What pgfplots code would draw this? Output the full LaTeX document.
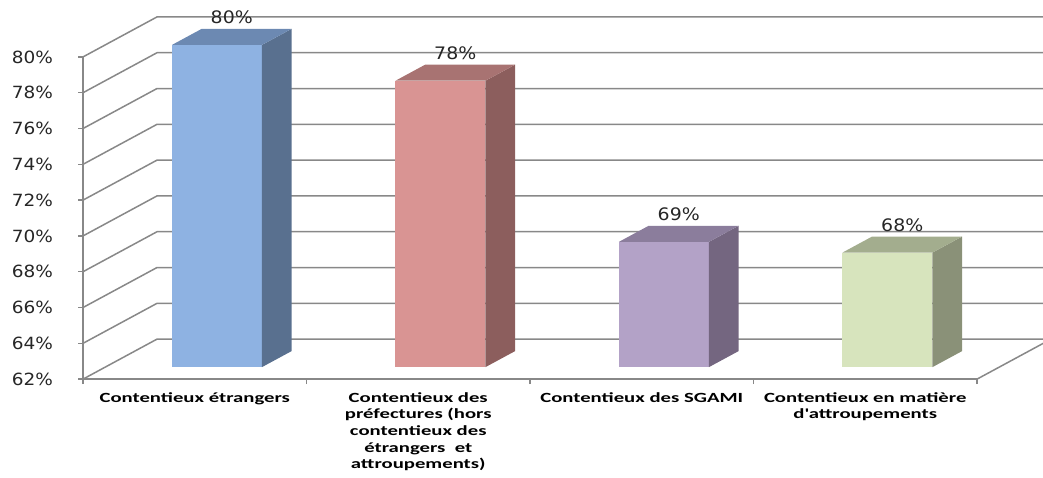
\documentclass[border=0pt]{standalone}
\usepackage{pgfplots}
\pgfplotsset{compat=1.18}
\usepackage{pgfplotstable}
\usepackage{fontspec}
\setmainfont{DejaVu Sans}
\newfontfamily\valfont{DejaVu Sans}[FakeStretch=1.1]
\newfontfamily\catfont{Carlito}[FakeStretch=1.48]

\definecolor{gridgray}{RGB}{136,136,136}
\definecolor{blueF}{RGB}{142,178,226}
\definecolor{blueS}{RGB}{89,112,143}
\definecolor{blueT}{RGB}{108,137,178}
\definecolor{redF}{RGB}{217,148,147}
\definecolor{redS}{RGB}{140,94,93}
\definecolor{redT}{RGB}{168,115,114}
\definecolor{violetF}{RGB}{179,162,199}
\definecolor{violetS}{RGB}{116,102,128}
\definecolor{violetT}{RGB}{139,125,156}
\definecolor{greenF}{RGB}{215,228,189}
\definecolor{greenS}{RGB}{138,145,120}
\definecolor{greenT}{RGB}{163,173,142}

% success rates per litigation category
\pgfplotstableread{
idx val
0 80
1 78
2 69
3 68.4
}\bardata

% oblique depth, in axis units (x: one category, y: one percent)
\def\barOX{0.0993}
\def\barOY{0.670}
\def\barDX{0.1324}
\def\barDY{0.894}
\def\barHW{0.2013}

% one box: front face, side face, top face and value label
\newcommand\drawbar[4]{%
  \pgfplotstablegetelem{#1}{val}\of\bardata
  \let\v\pgfplotsretval
  \pgfmathsetmacro\xl{#1+0.5+\barOX-\barHW}
  \pgfmathsetmacro\xr{#1+0.5+\barOX+\barHW}
  \pgfmathsetmacro\xrb{\xr+\barDX}
  \pgfmathsetmacro\xlb{\xl+\barDX}
  \pgfmathsetmacro\yb{62+\barOY}
  \pgfmathsetmacro\ybb{\yb+\barDY}
  \pgfmathsetmacro\yt{\v+\barOY}
  \pgfmathsetmacro\ytb{\yt+\barDY}
  \pgfmathsetmacro\xc{#1+0.5+\barOX+0.5*\barDX}
  \pgfmathsetmacro\yc{\yt+0.5*\barDY}
  \addplot[fill=#2, draw=none] coordinates {(\xl,\yb) (\xr,\yb) (\xr,\yt) (\xl,\yt)} -- cycle;
  \addplot[fill=#3, draw=none] coordinates {(\xr,\yb) (\xrb,\ybb) (\xrb,\ytb) (\xr,\yt)} -- cycle;
  \addplot[fill=#4, draw=none] coordinates {(\xl,\yt) (\xr,\yt) (\xrb,\ytb) (\xlb,\ytb)} -- cycle;
  \addplot[draw=none, mark=none, point meta=explicit,
    nodes near coords={\pgfmathprintnumber[fixed,precision=0]{\pgfplotspointmeta}\%},
    nodes near coords style={anchor=base, yshift=6.5pt, inner sep=0pt,
      font=\valfont\fontsize{8.6}{10}\selectfont, text=black!85}]
    coordinates {(\xc,\yc) [\v]};
}

\begin{document}
\begin{tikzpicture}
\begin{axis}[
  x=111.75pt, y=8.95pt,
  xmin=0, xmax=4, ymin=62, ymax=80,
  clip=false,
  axis x line*=bottom, axis y line*=left,
  axis line style={gridgray, line width=0.75pt},
  tick style={gridgray, line width=0.75pt},
  tick align=outside, major tick length=2.5pt,
  ytick={62,64,...,80},
  /pgf/number format/assume math mode=true,
  yticklabel={\pgfmathprintnumber{\tick}\%},
  yticklabel style={font=\valfont\fontsize{8.4}{10}\selectfont, text=black!85, xshift=-9pt},
  xtick={0,1,2,3,4}, xticklabels={},
  extra x ticks={0.5,1.5,2.5,3.5},
  extra x tick labels={{Contentieux étrangers},
    {Contentieux des\\préfectures (hors\\contentieux des\\étrangers~~et\\attroupements)},
    {Contentieux des SGAMI},
    {Contentieux en matière\\d'attroupements}},
  extra x tick style={major tick length=0pt,
    xticklabel style={font=\catfont\bfseries\fontsize{7}{8.35}\selectfont,
      align=center, anchor=north, yshift=-3pt}},
]
% side wall and back wall grid
\addplot[gridgray, line width=0.75pt] coordinates {(0,62) (0.3311,64.2346) (4.3311,64.2346)};
\addplot[gridgray, line width=0.75pt] coordinates {(0,64) (0.3311,66.2346) (4.3311,66.2346)};
\addplot[gridgray, line width=0.75pt] coordinates {(0,66) (0.3311,68.2346) (4.3311,68.2346)};
\addplot[gridgray, line width=0.75pt] coordinates {(0,68) (0.3311,70.2346) (4.3311,70.2346)};
\addplot[gridgray, line width=0.75pt] coordinates {(0,70) (0.3311,72.2346) (4.3311,72.2346)};
\addplot[gridgray, line width=0.75pt] coordinates {(0,72) (0.3311,74.2346) (4.3311,74.2346)};
\addplot[gridgray, line width=0.75pt] coordinates {(0,74) (0.3311,76.2346) (4.3311,76.2346)};
\addplot[gridgray, line width=0.75pt] coordinates {(0,76) (0.3311,78.2346) (4.3311,78.2346)};
\addplot[gridgray, line width=0.75pt] coordinates {(0,78) (0.3311,80.2346) (4.3311,80.2346)};
\addplot[gridgray, line width=0.75pt] coordinates {(0,80) (0.3311,82.2346) (4.3311,82.2346)};
% floor edge on the right
\addplot[gridgray, line width=0.75pt] coordinates {(4,62) (4.3311,64.2346)};

\drawbar{0}{blueF}{blueS}{blueT}
\drawbar{1}{redF}{redS}{redT}
\drawbar{2}{violetF}{violetS}{violetT}
\drawbar{3}{greenF}{greenS}{greenT}

\coordinate (bbll) at (axis cs:-0.3714,56.53);
\coordinate (bbur) at (axis cs:4.2953,83.18);
\end{axis}
\pgfresetboundingbox
\path[use as bounding box] (bbll) rectangle (bbur);
\end{tikzpicture}
\end{document}
